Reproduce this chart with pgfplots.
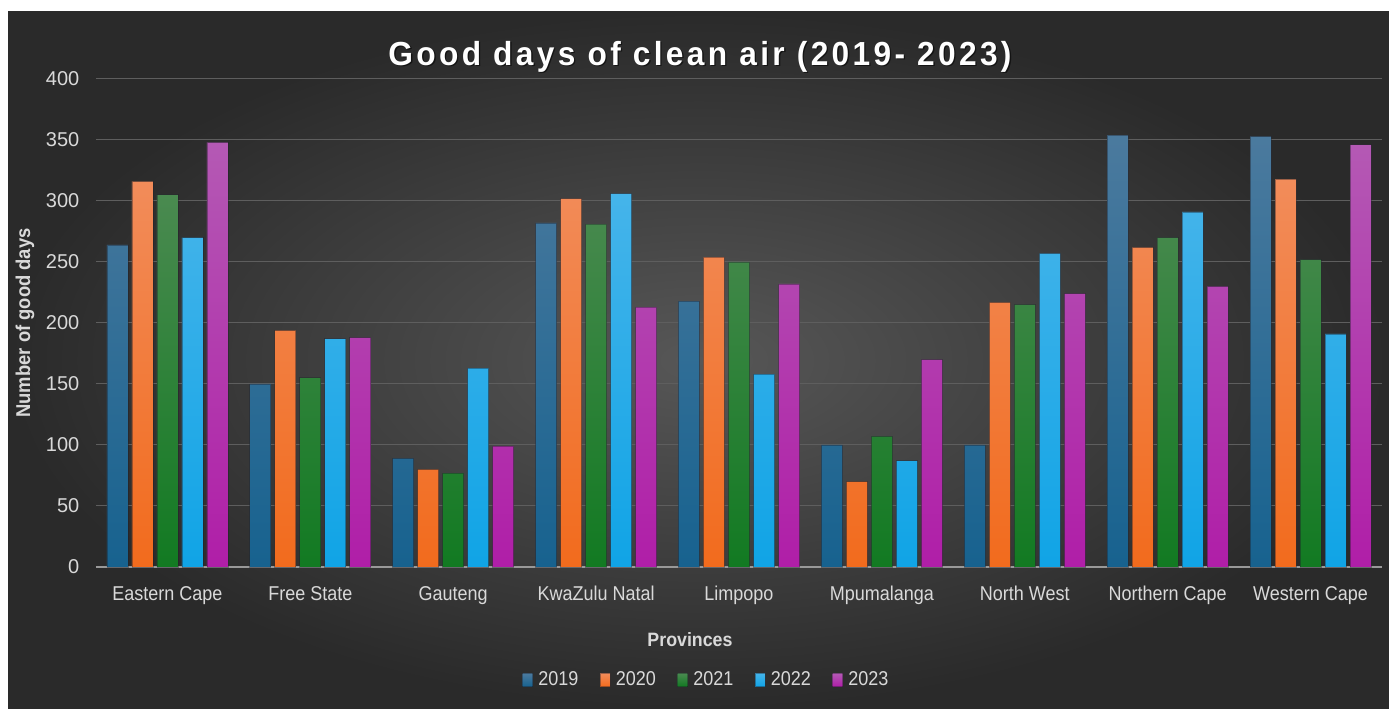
\documentclass[border=0pt]{standalone}
\usepackage{pgfplots}
\pgfplotsset{compat=1.18}
\usepackage{pgfplotstable}
\usepackage{fontspec}
\setmainfont{Liberation Sans}[FakeStretch=0.9]
\newfontfamily\titlefont{Liberation Sans}[FakeStretch=0.95,LetterSpace=10]
\newfontfamily\labfont{Liberation Sans}[FakeStretch=0.92]
\newfontfamily\numfont{Liberation Sans}

\definecolor{bgin}{HTML}{575757}
\definecolor{bgout}{HTML}{2A2A2A}
\definecolor{txt}{HTML}{D9D9D9}
\definecolor{gridc}{HTML}{5E5E5E}
\definecolor{c19t}{HTML}{4B7A9E}\definecolor{c19b}{HTML}{17628F}
\definecolor{c20t}{HTML}{F28C5A}\definecolor{c20b}{HTML}{F26B1D}
\definecolor{c21t}{HTML}{4A8A50}\definecolor{c21b}{HTML}{127A22}
\definecolor{c22t}{HTML}{45B4EA}\definecolor{c22b}{HTML}{10A4E6}
\definecolor{c23t}{HTML}{B459B4}\definecolor{c23b}{HTML}{B01EA8}
\definecolor{edge}{HTML}{1E1E28}

\pgfplotstableread{
x  y19 y20 y21 y22 y23
0  264 316 305 270 348
1  150 194 155 187 188
2  89  80  77  163 99
3  282 302 281 306 213
4  218 254 250 158 232
5  100 70  107 87  170
6  100 217 215 257 224
7  354 262 270 291 230
8  353 318 252 191 346
}\datatable

\begin{document}
\begin{tikzpicture}
% page and background (1px = 0.75pt)
\fill[white] (0,0) rectangle (1041.75pt,531.75pt);
\shade[inner color=bgin, outer color=bgout] (6pt,0) rectangle (1041.75pt,522.75pt);
\begin{axis}[
  at={(72pt,106.5pt)}, anchor=south west,
  scale only axis, width=964.5pt, height=366pt,
  xmin=-0.5, xmax=8.5, ymin=0, ymax=400,
  ytick={0,50,...,400},
  xtick={0,...,8},
  xticklabels={Eastern Cape,Free State,Gauteng,KwaZulu Natal,Limpopo,Mpumalanga,North West,Northern Cape,Western Cape},
  major tick length=0pt,
  axis line style={draw=none},
  xmajorgrids=false, ymajorgrids=true,
  y grid style={color=gridc, line width=0.75pt},
  tick label style={text=txt, font=\fontsize{15pt}{18pt}\selectfont},
  /pgf/number format/assume math mode=true,
  yticklabel style={xshift=-9pt, font=\numfont\fontsize{15pt}{18pt}\selectfont},
  xticklabel style={yshift=-11pt},
  ybar, bar width=0.147,
  every axis plot/.append style={draw=edge, draw opacity=0.4, line width=0.6pt},
  legend columns=5,
  legend style={at={(0.4749,-0.2316)}, anchor=center, draw=none, fill=none,
     text=txt, font=\fontsize{15pt}{18pt}\selectfont,
     /tikz/every even column/.append style={column sep=14pt},
     /tikz/every odd column/.append style={column sep=0pt},
     legend cell align=left},
  legend image code/.code={\fill[#1] (0pt,-5pt) rectangle (7.5pt,5pt);},
  clip=false,
]
\draw[color=gray!80, line width=1.5pt] (axis cs:-0.5,0) -- (axis cs:8.5,0);
\addplot[bar shift=-0.35, top color=c19t, bottom color=c19b] table[x=x,y=y19] {\datatable};
\addplot[bar shift=-0.175, top color=c20t, bottom color=c20b] table[x=x,y=y20] {\datatable};
\addplot[bar shift=0, top color=c21t, bottom color=c21b] table[x=x,y=y21] {\datatable};
\addplot[bar shift=0.175, top color=c22t, bottom color=c22b] table[x=x,y=y22] {\datatable};
\addplot[bar shift=0.35, top color=c23t, bottom color=c23b] table[x=x,y=y23] {\datatable};
\legend{\hspace{2pt}2019,\hspace{2pt}2020,\hspace{2pt}2021,\hspace{2pt}2022,\hspace{2pt}2023}
\end{axis}
% Title with shadow
\node[anchor=base, text=black, opacity=0.55, font=\titlefont\bfseries\fontsize{25pt}{29pt}\selectfont] at (526pt,481.5pt) {Good days of clean air (2019- 2023)};
\node[anchor=base, text=white, font=\titlefont\bfseries\fontsize{25pt}{29pt}\selectfont] at (525pt,482.5pt) {Good days of clean air (2019- 2023)};
% Axis titles
\node[anchor=base, text=txt, font=\labfont\bfseries\fontsize{14.5pt}{17pt}\selectfont] at (517.5pt,46.5pt) {Provinces};
\node[rotate=90, text=txt, font=\labfont\bfseries\fontsize{15pt}{17pt}\selectfont] at (18.75pt,289.5pt) {Number of good days};
\pgfresetboundingbox
\useasboundingbox (0,0) rectangle (1041.75pt,531.75pt);
\end{tikzpicture}
\end{document}
